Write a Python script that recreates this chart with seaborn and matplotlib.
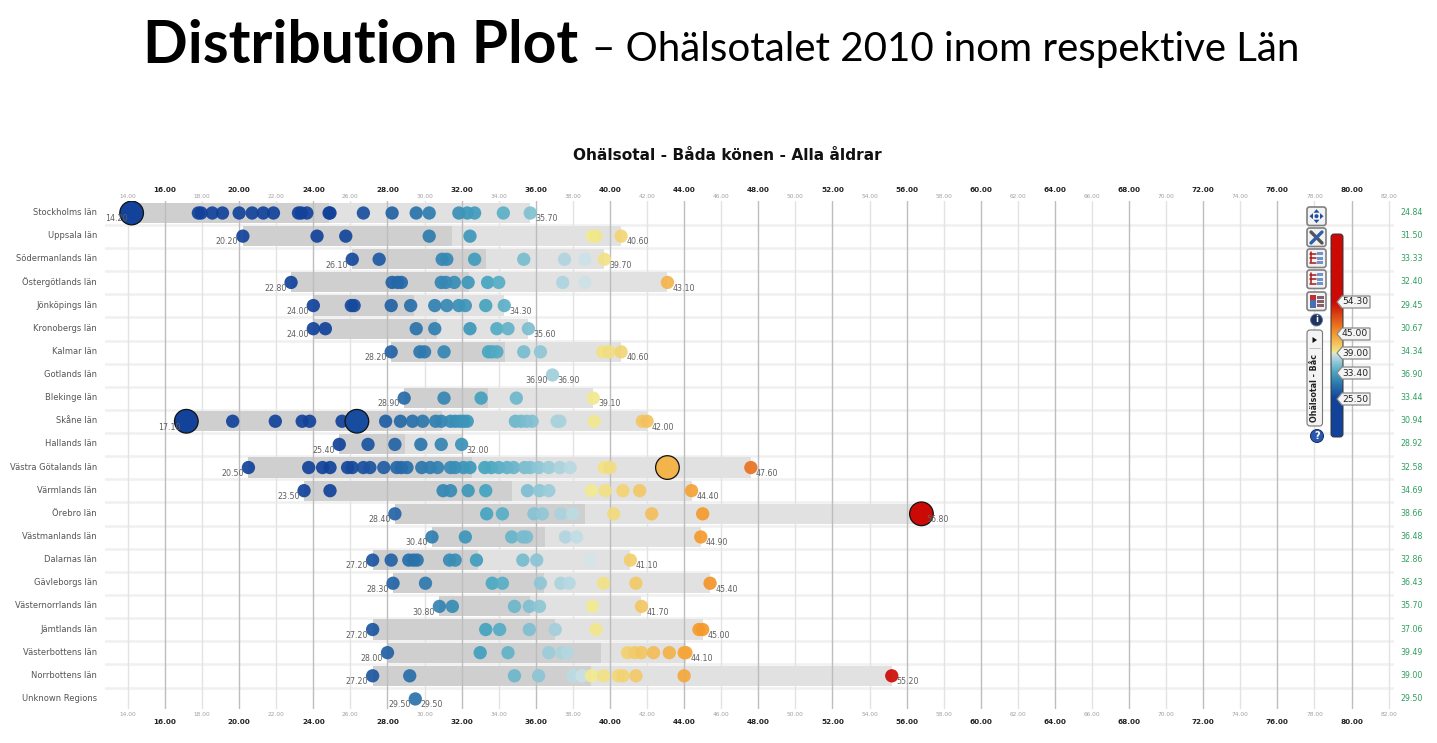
import numpy as np
import pandas as pd
import matplotlib
matplotlib.use('Agg')
import matplotlib.pyplot as plt
from matplotlib.colors import LinearSegmentedColormap, Normalize
from matplotlib.patches import FancyBboxPatch, Circle, Rectangle, Polygon
import seaborn as sns

# regions top to bottom, green column is the county mean
regions = ['Stockholms län', 'Uppsala län', 'Södermanlands län', 'Östergötlands län', 'Jönköpings län',
           'Kronobergs län', 'Kalmar län', 'Gotlands län', 'Blekinge län', 'Skåne län', 'Hallands län',
           'Västra Götalands län', 'Värmlands län', 'Örebro län', 'Västmanlands län', 'Dalarnas län',
           'Gävleborgs län', 'Västernorrlands län', 'Jämtlands län', 'Västerbottens län', 'Norrbottens län',
           'Unknown Regions']
means = [24.84, 31.50, 33.33, 32.40, 29.45, 30.67, 34.34, 36.90, 33.44, 30.94, 28.92,
         32.58, 34.69, 38.66, 36.48, 32.86, 36.43, 35.70, 37.06, 39.49, 39.00, 29.50]

stockholm = [14.2, 17.8, 17.95, 18.55, 19.1, 20.0, 20.7, 21.3, 21.85, 23.2, 23.35, 23.65, 24.85, 24.9,
             26.7, 28.25, 29.55, 30.25, 31.85, 32.3, 32.7, 34.25, 35.7]
uppsala = [20.2, 24.2, 25.75, 30.25, 32.45, 39.05, 39.25, 40.6]
sodermanland = [26.1, 27.55, 30.95, 31.2, 32.7, 35.35, 37.55, 38.65, 39.7]
ostergotland = [22.8, 28.25, 28.55, 28.75, 30.9, 31.15, 31.6, 32.35, 33.4, 34.0, 37.45, 38.65, 43.1]
jonkoping = [24.0, 26.05, 26.2, 28.2, 29.25, 30.55, 31.2, 31.85, 32.2, 33.3, 34.3]
kronoberg = [24.0, 24.65, 29.55, 30.55, 32.45, 33.9, 34.5, 35.6]
kalmar = [28.2, 29.75, 30.0, 31.05, 33.45, 33.65, 33.9, 35.35, 36.25, 39.6, 39.95, 40.6]
gotland = [36.9]
blekinge = [28.9, 31.05, 33.05, 34.95, 39.1]
skane = [17.1, 19.65, 21.95, 23.4, 23.8, 25.55, 27.9, 28.7, 29.35, 29.9, 30.6, 30.9, 31.4, 31.65, 31.9,
         32.1, 32.3, 34.9, 35.2, 35.5, 35.8, 37.15, 37.3, 39.15, 41.75, 42.0]
halland = [25.4, 26.95, 28.4, 29.8, 30.9, 32.0]
vastra_gotaland = [20.5, 23.75, 24.5, 24.9, 25.85, 26.1, 26.7, 27.05, 27.8, 28.5, 28.75, 29.05, 29.85, 30.3,
                   30.7, 31.4, 31.65, 32.1, 32.45, 33.25, 33.6, 34.0, 34.45, 34.8, 35.4, 35.7, 36.15, 36.7,
                   37.3, 37.85, 39.7, 40.0, 47.6]
varmland = [23.5, 24.9, 31.0, 31.4, 32.35, 33.3, 35.55, 36.2, 36.7, 39.0, 39.75, 40.7, 41.6, 44.4]
orebro = [28.4, 33.35, 34.2, 35.9, 36.35, 37.35, 38.0, 40.2, 42.25, 45.0, 56.8]
vastmanland = [30.4, 32.2, 34.7, 35.3, 35.5, 37.6, 38.2, 44.9]
dalarna = [27.2, 28.2, 29.15, 29.4, 29.6, 31.35, 31.65, 32.8, 35.3, 36.05, 38.9, 41.1]
gavleborg = [28.3, 30.05, 33.65, 34.2, 36.25, 37.35, 37.8, 39.65, 41.4, 45.4]
vasternorrland = [30.8, 31.5, 34.85, 35.65, 36.2, 39.05, 41.7]
jamtland = [27.2, 33.3, 34.05, 35.65, 37.05, 39.25, 44.8, 45.0]
vasterbotten = [28.0, 33.0, 34.5, 36.7, 37.4, 37.7, 40.95, 41.35, 41.7, 42.35, 43.2, 44.0, 44.1]
norrbotten = [27.2, 29.2, 34.85, 36.15, 38.0, 38.05, 38.5, 39.0, 39.65, 40.45, 40.7, 41.4, 44.0, 55.2]
unknown = [29.5]

all_values = [stockholm, uppsala, sodermanland, ostergotland, jonkoping, kronoberg, kalmar, gotland, blekinge,
              skane, halland, vastra_gotaland, varmland, orebro, vastmanland, dalarna, gavleborg, vasternorrland,
              jamtland, vasterbotten, norrbotten, unknown]

# the selected (large) municipalities
big_regions = ['Stockholms län', 'Skåne län', 'Skåne län', 'Västra Götalands län', 'Örebro län']
big_values = [14.2, 17.15, 26.35, 43.1, 56.8]

slider_values = [54.30, 45.00, 39.00, 33.40, 25.50]
slider_rows = [302, 334, 353, 373, 399]

df = pd.DataFrame([(i, v) for i, vals in enumerate(all_values) for v in vals], columns=['row', 'value'])
df_big = pd.DataFrame({'row': [regions.index(r) for r in big_regions], 'value': big_values})

norm = Normalize(25.5, 54.3)
def f(v):
    return (v - 25.5) / 28.8
cmap = LinearSegmentedColormap.from_list('ohalsa', [
    (0, '#12429a'), (f(29.5), '#2a72ab'), (f(33.4), '#45a5c0'), (f(38.99), '#d5e6ea'), (f(39.0), '#f2ea90'),
    (f(45.0), '#f59a2c'), (1, '#cc0a05')], N=512)

sns.set_theme(style='white')
plt.rcParams['font.family'] = ['DejaVu Sans']

W, H = 1437, 743
fig = plt.figure(figsize=(W / 100, H / 100), dpi=100)

# main chart, row i sits at 213 + 23.14*i px, 16.00 at 165 px and 18.54 px per unit
left, right, top, bottom = 105, 1394, 201, 709
ax = fig.add_axes([left / W, 1 - bottom / H, (right - left) / W, (bottom - top) / H])
ax.set_xlim(16 + (left - 165) / 18.54, 16 + (right - 165) / 18.54)
ax.set_ylim((bottom - 213) / 23.14, (top - 213) / 23.14)

for i, vals in enumerate(all_values):
    if len(vals) > 1:
        ax.barh(i, max(vals) - min(vals), left=min(vals), height=0.87, color='#e1e1e1', linewidth=0, zorder=1)
        ax.barh(i, means[i] - min(vals), left=min(vals), height=0.87, color='#cfcfcf', linewidth=0, zorder=1.1)
    if i < len(regions) - 1:
        ax.axhline(i + 0.51, color='#f0f0f0', lw=1.8, zorder=0.5)

major = np.arange(16, 81, 4)
minor = np.arange(14, 83, 4)
for x in major:
    ax.axvline(x, color='#bdbdbd', lw=1.0, zorder=2)
for x in minor:
    ax.axvline(x, color='#e3e3e3', lw=1.0, zorder=0.8)

sns.scatterplot(data=df, x='value', y='row', hue='value', hue_norm=norm, palette=cmap, s=92, linewidth=0,
                alpha=0.92, legend=False, ax=ax, zorder=3)
sns.scatterplot(data=df_big, x='value', y='row', hue='value', hue_norm=norm, palette=cmap, s=290,
                edgecolor='#111111', linewidth=0.9, alpha=1, legend=False, ax=ax, zorder=4)

ax.axis('off')

for i, vals in enumerate(all_values):
    ax.annotate('%.2f' % min(vals), (min(vals), i), xytext=(-3.2, -4.2), textcoords='offset points', ha='right',
                va='center', fontsize=5.7, color='#606060', zorder=5)
    ax.annotate('%.2f' % max(vals), (max(vals), i), xytext=(3.6, -4.2), textcoords='offset points', ha='left',
                va='center', fontsize=5.7, color='#606060', zorder=5)

# overlay in pixel coordinates for everything around the plot
ov = fig.add_axes([0, 0, 1, 1], facecolor='none')
ov.set_xlim(0, W)
ov.set_ylim(H, 0)
ov.axis('off')

ov.text(143, 46, 'Distribution Plot', fontsize=42.3, fontweight='bold', family='Lato', va='center', color='black')
ov.text(592, 49, '– Ohälsotalet 2010 inom respektive Län', fontsize=29, family='Lato', va='center', color='black')
ov.text(727, 155, 'Ohälsotal - Båda könen - Alla åldrar', fontsize=11.1, fontweight='bold', ha='center',
        va='center', color='#111111')

def xpx(v):
    return 165 + (v - 16) * 18.54

for v in major:
    ov.text(xpx(v), 190, '%.2f' % v, fontsize=5.2, fontweight='bold', ha='center', va='center', color='#222222')
    ov.text(xpx(v), 722, '%.2f' % v, fontsize=5.2, fontweight='bold', ha='center', va='center', color='#222222')
for v in minor:
    ov.text(xpx(v), 197, '%.2f' % v, fontsize=4.2, ha='center', va='center', color='#a0a0a0')
    ov.text(xpx(v), 715, '%.2f' % v, fontsize=4.2, ha='center', va='center', color='#a0a0a0')

for i, name in enumerate(regions):
    y = 212.5 + 23.14 * i
    ov.text(97, y, name, fontsize=6.05, ha='right', va='center', color='#555555')
    ov.text(1400, y, '%.2f' % means[i], fontsize=5.7, ha='left', va='center', color='#2f9e5f')

# colour bar
ys = np.arange(233, 438)
bar_vals = np.interp(ys, slider_rows, slider_values)
img = ov.imshow(bar_vals[:, None], cmap=cmap, norm=norm, extent=(1331, 1343, 437, 233), aspect='auto', zorder=3)
ov.set_xlim(0, W)
ov.set_ylim(H, 0)
outline = FancyBboxPatch((1331, 234), 12, 203, boxstyle='round,pad=0,rounding_size=3', fc='none', ec='#333333',
                         lw=0.7, zorder=4)
ov.add_patch(outline)
img.set_clip_path(outline)

for v, y in zip(slider_values, slider_rows):
    ov.add_patch(Polygon([(1337, y), (1342, y - 6), (1370, y - 6), (1370, y + 6), (1342, y + 6)], closed=True,
                         fc='#f4f4f4', ec='#8a8a8a', lw=0.9, zorder=5))
    ov.text(1342, y, '%.2f' % v, fontsize=6.6, va='center', ha='left', color='#222222', zorder=6)

# toolbar buttons
for y in [207, 228, 249, 270, 292]:
    ov.add_patch(FancyBboxPatch((1307, y), 19, 18.5, boxstyle='round,pad=0,rounding_size=2.5', fc='#f2f2f2',
                                ec='#808080', lw=1.2, zorder=3))
# move arrows
cx, cy = 1316.5, 216.2
for sx, sy in [(0, -1), (0, 1), (-1, 0), (1, 0)]:
    ov.add_patch(Polygon([(cx + 7 * sx, cy + 7 * sy), (cx + 3.5 * sx + 3 * sy, cy + 3.5 * sy + 3 * sx),
                          (cx + 3.5 * sx - 3 * sy, cy + 3.5 * sy - 3 * sx)], closed=True, fc='#1f4fa0', ec='none',
                         zorder=4))
ov.add_patch(Circle((cx, cy), 2, fc='#1f4fa0', ec='none', zorder=4))
# tools
ov.plot([1311, 1322], [232, 243], color='#555555', lw=2.4, zorder=4)
ov.plot([1322, 1311], [232, 243], color='#2f5fa8', lw=2.4, zorder=4)
# tree/table icons
for k, y0 in enumerate([252, 273]):
    for j in range(3):
        ov.add_patch(Rectangle((1317, y0 + j * 4.5), 6, 3.4, fc='#6f93cc', ec='none', zorder=4))
        ov.plot([1310, 1316], [y0 + j * 4.5 + 1.5] * 2, color='#a81818', lw=1.1, zorder=4)
    ov.plot([1311, 1311], [y0, y0 + 10], color='#a81818', lw=1.1, zorder=4)
ov.add_patch(Rectangle((1310, 295), 5.5, 12.5, fc='#4a6fb0', ec='none', zorder=4))
ov.add_patch(Rectangle((1310, 295), 5.5, 5, fc='#c03030', ec='none', zorder=4))
for j in range(3):
    ov.add_patch(Rectangle((1317, 295.5 + j * 4), 7, 3.2, fc='#85606a', ec='none', zorder=4))

ov.add_patch(Circle((1316.5, 320), 6, fc='#1f3560', ec='#6a7a9a', lw=0.6, zorder=4))
ov.text(1316.5, 320, 'i', fontsize=6, fontweight='bold', color='white', ha='center', va='center', zorder=5)
ov.add_patch(FancyBboxPatch((1307, 330), 15.5, 96, boxstyle='round,pad=0,rounding_size=3', fc='#f4f4f4',
                            ec='#777777', lw=0.8, zorder=3))
ov.add_patch(Polygon([(1312.5, 337), (1312.5, 343), (1317, 340)], closed=True, fc='#111111', ec='none', zorder=4))
ov.plot([1309, 1320], [348, 348], color='#bbbbbb', lw=0.6, zorder=4)
ov.text(1314.5, 388, 'Ohälsotal - Båc', fontsize=5.8, fontweight='bold', rotation=90, ha='center', va='center',
        color='#222222', zorder=4)
ov.add_patch(Circle((1317, 436), 6.5, fc='#2a58b0', ec='#1a2f60', lw=0.7, zorder=4))
ov.text(1317, 436, '?', fontsize=7, fontweight='bold', color='white', ha='center', va='center', zorder=5)

fig.savefig('out.png', dpi=100, facecolor='white')
